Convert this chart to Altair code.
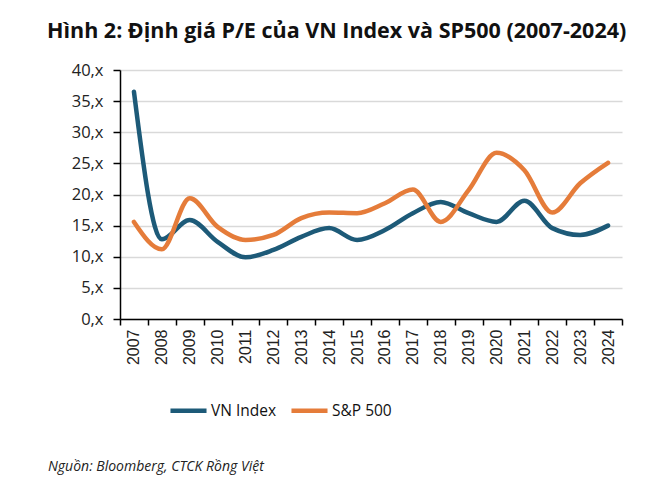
import altair as alt
import pandas as pd

years = [str(y) for y in range(2007, 2025)]
vn_index = [36.5, 12.8, 15.9, 12.4, 9.9, 11.1, 13.2, 14.6, 12.7, 14.3, 17.0, 18.8, 17.0, 15.6, 19.0, 14.6, 13.5, 15.0]
sp500 = [15.6, 11.2, 19.4, 14.8, 12.7, 13.5, 16.2, 17.1, 17.0, 18.6, 20.8, 15.6, 20.7, 26.7, 23.9, 17.1, 21.8, 25.1]
series_names = ["VN Index", "S&P 500"]
series_colors = ["#1d5a78", "#e57c3a"]
y_ticks = [0, 5, 10, 15, 20, 25, 30, 35, 40]
title_text = "Hình 2: Định giá P/E của VN Index và SP500 (2007-2024)"
source_text = "Nguồn: Bloomberg, CTCK Rồng Việt"

rows = []
for name, vals in zip(series_names, [vn_index, sp500]):
    for yr, v in zip(years, vals):
        rows.append({"year": yr, "pe": v, "series": name})
df = pd.DataFrame(rows)

lines = alt.Chart(df).mark_line(interpolate="monotone", strokeWidth=4.5, strokeCap="round").encode(
    x=alt.X(
        "year:O",
        bandPosition=0.5,
        sort=years,
        scale=alt.Scale(type="band", paddingInner=0, paddingOuter=0),
        axis=alt.Axis(
            title=None, labelAngle=-90, tickBand="extent", grid=False,
            labelFont="Liberation Sans", labelFontSize=16, labelColor="#222222",
            domainColor="#000000", domainWidth=1.5, tickColor="#000000", tickWidth=1.5,
            tickSize=6, labelPadding=4,
        ),
    ),
    y=alt.Y(
        "pe:Q",
        scale=alt.Scale(domain=[0, 40]),
        axis=alt.Axis(
            title=None, values=y_ticks, labelExpr="datum.value + ',x'",
            labelFont="Open Sans", labelFontSize=16.5, labelColor="#222222",
            domainColor="#000000", domainWidth=1.5, tickColor="#000000", tickWidth=1.5,
            tickSize=7, labelPadding=10, grid=True, gridColor="#d9d9d9", gridWidth=1.5,
        ),
    ),
    color=alt.Color(
        "series:N",
        sort=series_names,
        scale=alt.Scale(domain=series_names, range=series_colors),
        legend=alt.Legend(
            title=None, orient="none", legendX=48, legendY=320, direction="horizontal",
            symbolType="stroke", symbolSize=1300, symbolStrokeWidth=4.5,
            labelFont="Open Sans", labelFontSize=15.5, labelColor="#111111",
            columnPadding=5, labelOffset=2,
        ),
    ),
)

source = alt.Chart(pd.DataFrame({"t": [source_text]})).mark_text(
    align="left", baseline="middle", font="Open Sans", fontSize=14,
    fontStyle="italic", color="#222222",
).encode(text="t:N", x=alt.value(-72), y=alt.value(397))

chart = alt.layer(lines, source).properties(
    width=502,
    height=249,
    autosize=alt.AutoSizeParams(type="none"),
    padding={"left": 112, "top": 62, "right": 30, "bottom": 160},
    title=alt.TitleParams(
        title_text, anchor="start", frame="group", dx=-73, offset=20,
        font="Open Sans", fontSize=21.5, fontWeight="bold", color="#111111",
    ),
).configure_view(stroke=None)

chart.save("out.html", embed_options={"renderer": "svg", "actions": False})
